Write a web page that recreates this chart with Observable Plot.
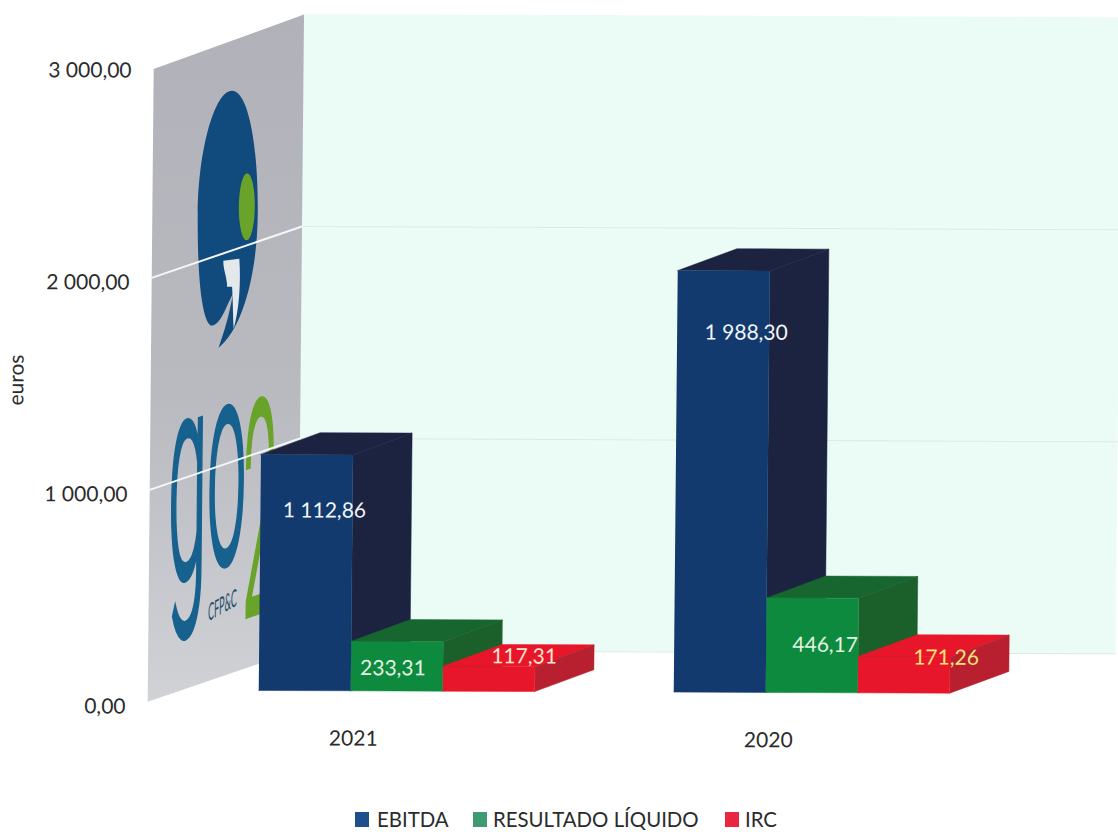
<!DOCTYPE html>
<html lang="pt">
<head>
<meta charset="utf-8">
<script src="https://cdn.jsdelivr.net/npm/d3@7"></script>
<script src="https://cdn.jsdelivr.net/npm/@observablehq/plot@0.6"></script>
<style>
  html, body { margin: 0; padding: 0; background: #fff; overflow: hidden; }
  #chart svg { display: block; transform: matrix(1, 0.004, -0.0095, 1, 0, 0); }
  #legend { position: relative; height: 32px; font: 20.4px/18px Lato, sans-serif; color: #2b2b2b; }
  #legend span { position: absolute; white-space: nowrap; top: 10px; }
  #legend i { position: absolute; width: 14px; height: 15px; top: 12px; }
</style>
</head>
<body>
<div id="chart"></div>
<div id="legend"></div>
<script>
// Values in euros, one entry per year
const years = ["2021", "2020"];
const ebitda = [1112.86, 1988.30];
const resultadoLiquido = [233.31, 446.17];
const irc = [117.31, 171.26];
const yTicks = [0, 1000, 2000, 3000];
const seriesNames = ["EBITDA", "RESULTADO LÍQUIDO", "IRC"];

// Face colours per series
const seriesValues = [ebitda, resultadoLiquido, irc];
const frontFill = ["#123a6e", "#0e8a3e", "#e8162a"];
const topFill = ["#1c2340", "#17662f", "#e8162a"];
const sideFill = ["#1c2340", "#1b5f2b", "#b8202f"];
const legendFill = ["#1f4e8c", "#3d9a73", "#e8263f"];

// Oblique projection, expressed in the units of the x and y scales
const barWidth = 0.2217;
const barDepthX = 0.142;
const barDepthV = 104;
const barLift = 56;
const wallDepthX = 0.361;
const wallDepthV = 245;
const wallLeft = -0.489;
const wallRight = 1.843;
const domainTop = 3000;
const wallFrontTop = 2985;

const euro = d3.formatLocale({decimal: ",", thousands: "\u00a0", grouping: [3], currency: ["", ""]}).format(",.2f");

function poly(key, fill, pts) {
  return pts.map(([x, y]) => ({key, fill, x, y}));
}

// Top, side and front of every bar; later series paint over the side of earlier ones
const faces = years.flatMap((year, g) => seriesValues.flatMap((vals, s) => {
  const x1 = g + (s - 1) * barWidth;
  const x2 = x1 + barWidth;
  const base = barLift;
  const top = vals[g] + barLift;
  const dx = barDepthX, dv = barDepthV;
  return [
    ...poly(`${year}-${s}-top`, topFill[s], [[x1, top], [x1 + dx, top + dv], [x2 + dx, top + dv], [x2, top]]),
    ...poly(`${year}-${s}-side`, sideFill[s], [[x2, base], [x2 + dx, base + dv], [x2 + dx, top + dv], [x2, top]]),
    ...poly(`${year}-${s}-front`, frontFill[s], [[x1, base], [x2, base], [x2, top], [x1, top]])
  ];
}));

// Side wall and back wall of the chart box
const sideWall = [
  {x: wallLeft, y: 0},
  {x: wallLeft + wallDepthX, y: wallDepthV},
  {x: wallLeft + wallDepthX, y: domainTop + wallDepthV},
  {x: wallLeft, y: wallFrontTop}
];
const wallGrid = [1000, 2000].flatMap((v) => [
  {v, x: wallLeft, y: v},
  {v, x: wallLeft + wallDepthX, y: v + wallDepthV}
]);
const backGrid = [0, 1000, 2000].flatMap((v) => [
  {v, x: wallLeft + wallDepthX, y: v + wallDepthV},
  {v, x: wallRight, y: v + wallDepthV}
]);

// Gradient used by the side wall
const wallDefs = () => {
  const defs = d3.create("svg:defs");
  const grad = defs.append("linearGradient").attr("id", "wallShade").attr("x1", 0).attr("y1", 0).attr("x2", 0).attr("y2", 1);
  grad.append("stop").attr("offset", "0%").attr("stop-color", "#b1b2b9");
  grad.append("stop").attr("offset", "55%").attr("stop-color", "#b8bac0");
  grad.append("stop").attr("offset", "100%").attr("stop-color", "#d0d2d6");
  return defs.node();
};

// Company logo printed on the side wall
const logo = () => {
  const g = d3.create("svg:g");
  g.append("path")
    .attr("fill", "#114a7c")
    .attr("d", "M229,92 C246,92 256,150 256,215 C256,275 242,330 218,349 C224,332 228,318 232,295 C224,310 220,327 210,327 C200,320 196,270 196,215 C196,150 212,92 229,92 Z");
  g.append("path")
    .attr("fill", "#e4e8ea")
    .attr("d", "M222,262 L238,260 C240,285 238,312 233,330 C232,315 232,300 231,288 L226,288 C226,278 222,272 222,262 Z");
  g.append("ellipse").attr("cx", 245).attr("cy", 208).attr("rx", 8).attr("ry", 33.5).attr("fill", "#6aa32a");
  const word = (txt, fill, m, weight, sw) => g.append("text")
    .text(txt)
    .attr("text-anchor", "start")
    .attr("transform", `matrix(${m.join(",")})`)
    .attr("fill", fill)
    .attr("stroke", fill)
    .attr("stroke-width", sw)
    .attr("vector-effect", "non-scaling-stroke")
    .style("font-family", "Roboto")
    .style("font-size", "100px")
    .style("font-weight", weight);
  word("go", "#17618f", [0.7, -0.25, 0, 2.9, 169, 585], 300, 4);
  word("2", "#6aa32a", [0.62, -0.22, 0, 2.95, 244, 619], 300, 4);
  g.append("text")
    .text("CFP&C")
    .attr("text-anchor", "start")
    .attr("transform", "matrix(0.6,-0.34,0,1.6,210,623)")
    .attr("fill", "#1e4f68")
    .style("font-family", "Lato")
    .style("font-size", "15px");
  return g.node();
};

// Value labels sit by hand on the bars: pixel nudge from the centre of each bar's front top
const labelNudge = [
  [[18, 56], [23, 62]],
  [[-4, 27], [13, 47]],
  [[35, -10], [42, 1]]
];
const labelFill = [["#f2f5fa", "#f2f5fa"], ["#e2f6e2", "#e2f6e2"], ["#fbe3cf", "#ffe27a"]];

const labelMarks = seriesValues.flatMap((vals, s) => vals.map((v, g) => Plot.text([v], {
  x: () => g + (s - 0.5) * barWidth,
  y: (d) => d + barLift,
  text: (d) => euro(d),
  dx: labelNudge[s][g][0],
  dy: labelNudge[s][g][1],
  fill: labelFill[s][g],
  fontSize: 21
})));

const chart = Plot.plot({
  width: 1118,
  height: 800,
  marginTop: 0,
  marginRight: 0,
  marginBottom: 72,
  marginLeft: 128,
  style: {fontFamily: "Lato, sans-serif", fontSize: "21px", color: "#2b2b2b", background: "transparent", overflow: "visible"},
  x: {type: "linear", domain: [0, 1], range: [353, 768]},
  y: {domain: [0, domainTop], range: [703, 67]},
  color: {type: "identity"},
  marks: [
    wallDefs,
    Plot.rect([0], {
      x1: wallLeft + wallDepthX, x2: wallRight,
      y1: wallDepthV, y2: domainTop + wallDepthV,
      fill: "#ebfcf6"
    }),
    Plot.line(backGrid, {x: "x", y: "y", z: "v", stroke: "#dfe9e3", strokeWidth: 1}),
    Plot.line(sideWall, {x: "x", y: "y", fill: "url(#wallShade)", stroke: null}),
    logo,
    Plot.line(wallGrid, {x: "x", y: "y", z: "v", stroke: "#f4f7f7", strokeWidth: 2}),
    Plot.line(faces, {x: "x", y: "y", z: "key", fill: "fill", stroke: "fill", strokeWidth: 0.5}),
    ...labelMarks,
    Plot.axisY({
      anchor: "left",
      ticks: yTicks,
      tickFormat: euro,
      tickSize: 0,
      tickPadding: 0,
      dy: 5,
      label: null
    }),
    Plot.axisX({
      anchor: "bottom",
      ticks: [0, 1],
      tickFormat: (d) => years[d],
      tickSize: 0,
      tickPadding: 3,
      dx: 3,
      label: null
    }),
    Plot.text(["euros"], {
      frameAnchor: "left",
      x: () => -0.812,
      y: () => 1395,
      rotate: -90,
      fontSize: 21,
      fill: "#2b2b2b"
    })
  ]
});
document.getElementById("chart").append(chart);

// Legend under the chart
const legendPos = [[355, 377], [473, 493], [725, 745]];
const legend = d3.select("#legend");
seriesNames.forEach((name, i) => {
  legend.append("i").style("left", legendPos[i][0] + "px").style("background", legendFill[i]);
  legend.append("span").style("left", legendPos[i][1] + "px").text(name);
});
</script>
</body>
</html>
